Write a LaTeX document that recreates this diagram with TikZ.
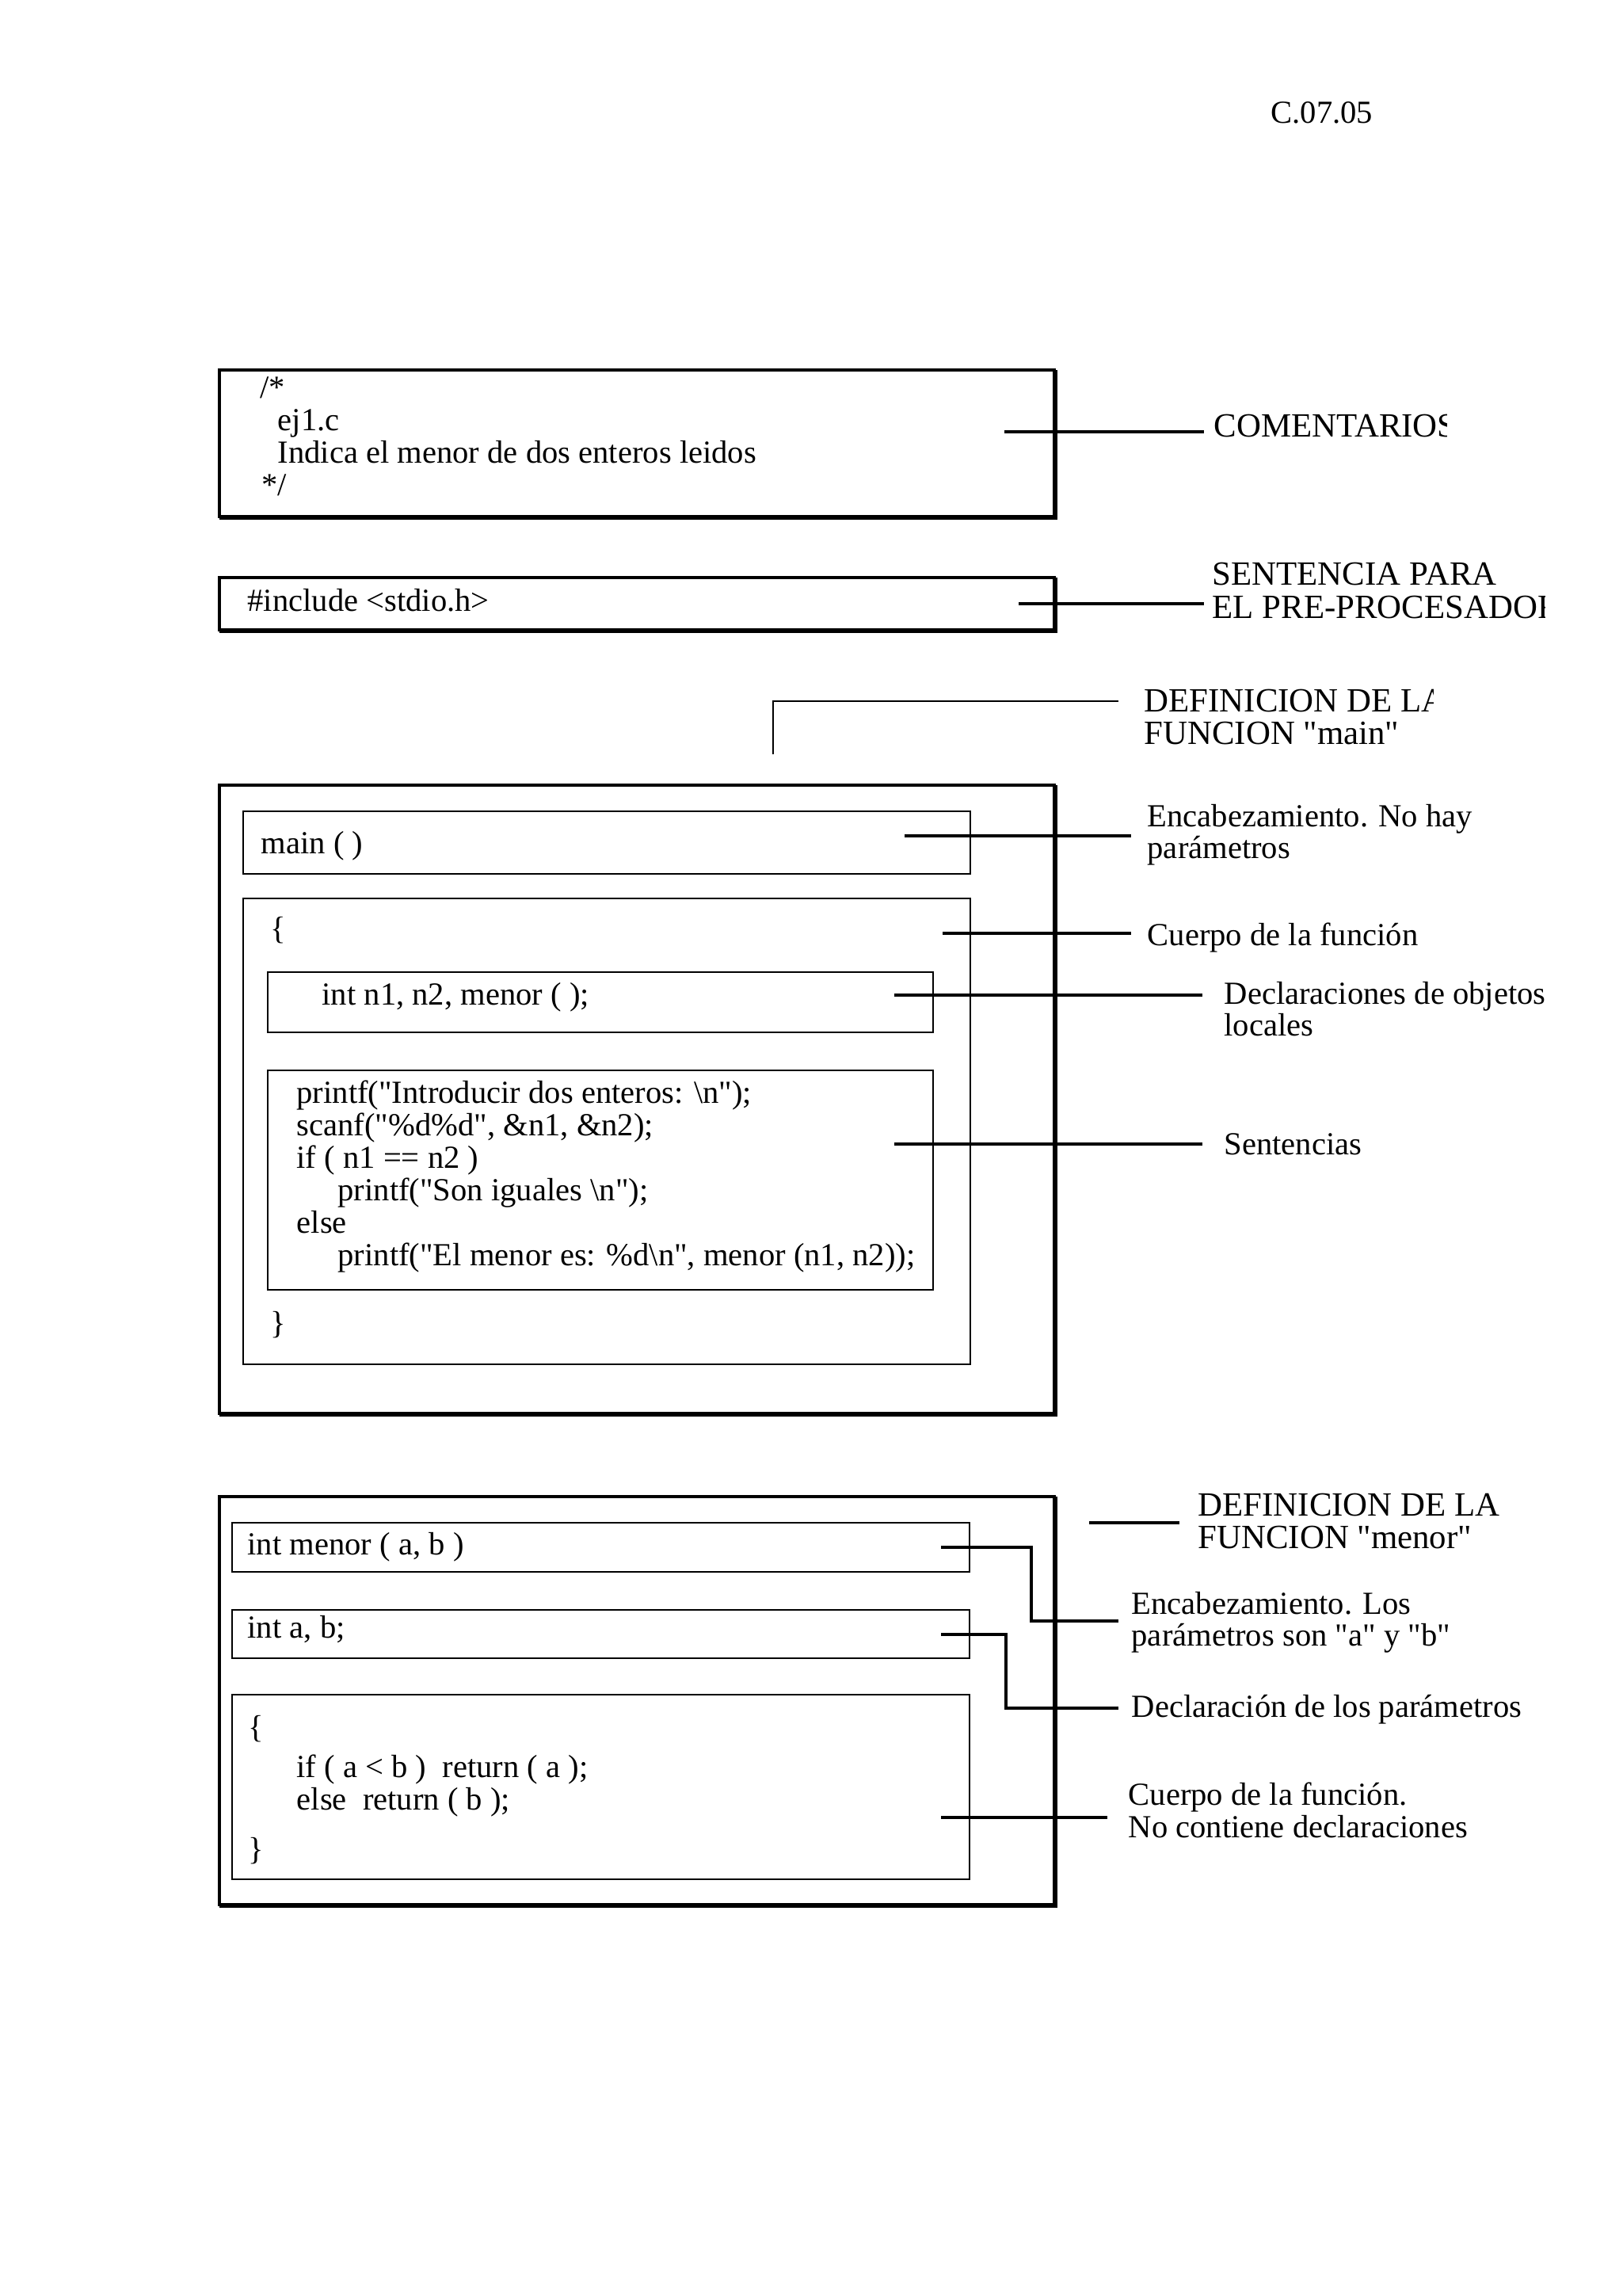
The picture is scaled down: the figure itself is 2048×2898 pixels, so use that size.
\documentclass[tikz,border=0pt]{standalone}
\usepackage{fontspec}
\setmainfont{Liberation Serif}
\newcommand{\qd}{\textquotedbl}
\begin{document}
\begin{tikzpicture}[x=0.29066bp,y=-0.29066bp,
  txt/.style={anchor=base west,inner sep=0pt,font=\fontsize{11.8bp}{12bp}\selectfont},
  captxt/.style={anchor=base west,inner sep=0pt,font=\fontsize{12.45bp}{12.5bp}\selectfont},
  outerbox/.style={line width=1.3bp},
  shadowline/.style={line width=1.1bp},
  innerbox/.style={line width=0.85bp},
  conn/.style={line width=0.9bp},
  thinconn/.style={line width=0.65bp}]
\useasboundingbox[fill=white] (0,0) rectangle (2048,2898);

% page code
\node[txt] (code) at (1604,155) {C.07.05};

% ---------- comment box ----------
\draw[outerbox] (277,467) rectangle (1331,652);
\draw[shadowline] (277,654) -- (1333,654) -- (1333,467);
\node[txt] (c1) at (328,502) {/*};
\node[txt] (c2) at (350,543) {ej1.c};
\node[txt] (c3) at (350,584) {Indica el menor de dos enteros leidos};
\node[txt] (c4) at (330,625) {*/};
\begin{scope}
  \clip (1500,480) rectangle (1826,600);
  \node[captxt] (lcom) at (1532,551) {COMENTARIOS};
\end{scope}
\coordinate (pcom) at (1268,545);
\coordinate (qcom) at (1520,545);
\draw[conn] (pcom) -- (qcom);

% ---------- include box ----------
\draw[outerbox] (277,729) rectangle (1331,795);
\draw[shadowline] (277,797) -- (1333,797) -- (1333,729);
\node[txt] (inc) at (312,771) {\#include <stdio.h>};
\node[captxt] (lsen1) at (1530,738) {SENTENCIA PARA};
\begin{scope}
  \clip (1500,745) rectangle (1950,800);
  \node[captxt] (lsen2) at (1530,780) {EL PRE-PROCESADOR};
\end{scope}
\coordinate (pinc) at (1286,762);
\coordinate (qinc) at (1520,762);
\draw[conn] (pinc) -- (qinc);

% ---------- main definition ----------
\coordinate (pdef) at (976,952);
\coordinate (kdef) at (976,885);
\coordinate (qdef) at (1412,885);
\draw[thinconn] (pdef) -- (kdef) -- (qdef);
\begin{scope}
  \clip (1420,850) rectangle (1809,905);
  \node[captxt] (ldef1) at (1444,898) {DEFINICION DE LA};
\end{scope}
\node[captxt] (ldef2) at (1444,939) {FUNCION \qd main\qd};

\draw[outerbox] (277,991) rectangle (1331,1784);
\draw[shadowline] (277,1786) -- (1333,1786) -- (1333,991);

% header box
\draw[innerbox] (307,1024) rectangle (1225,1103);
\node[txt] (mainh) at (329,1077) {main ( )};
\coordinate (phead) at (1142,1055);
\coordinate (qhead) at (1428,1055);
\draw[conn] (phead) -- (qhead);
\node[txt] (lhead1) at (1448,1043) {Encabezamiento. No hay};
\node[txt] (lhead2) at (1448,1083) {parámetros};

% body box
\draw[innerbox] (307,1134) rectangle (1225,1722);
\node[txt] (bopen) at (341,1185) {\{};
\node[txt] (bclose) at (341,1683) {\}};
\coordinate (pbody) at (1190,1178);
\coordinate (qbody) at (1428,1178);
\draw[conn] (pbody) -- (qbody);
\node[txt] (lbody) at (1448,1193) {Cuerpo de la función};

% declarations box
\draw[innerbox] (338,1227) rectangle (1178,1303);
\node[txt] (decl) at (406,1268) {int n1, n2, menor ( );};
\coordinate (pdecl) at (1129,1256);
\coordinate (qdecl) at (1518,1256);
\draw[conn] (pdecl) -- (qdecl);
\node[txt] (ldecl1) at (1545,1267) {Declaraciones de objetos};
\node[txt] (ldecl2) at (1545,1307) {locales};

% statements box
\draw[innerbox] (338,1351) rectangle (1178,1628);
\node[txt] (s1) at (374,1392) {printf(\qd Introducir dos enteros: \textbackslash n\qd);};
\node[txt] (s2) at (374,1433) {scanf(\qd\%d\%d\qd, \&n1, \&n2);};
\node[txt] (s3) at (374,1474) {if ( n1 == n2 )};
\node[txt] (s4) at (426,1515) {printf(\qd Son iguales \textbackslash n\qd);};
\node[txt] (s5) at (374,1556) {else};
\node[txt] (s6) at (426,1597) {printf(\qd El menor es: \%d\textbackslash n\qd, menor (n1, n2));};
\coordinate (pstm) at (1129,1444);
\coordinate (qstm) at (1518,1444);
\draw[conn] (pstm) -- (qstm);
\node[txt] (lstm) at (1545,1457) {Sentencias};

% ---------- menor definition ----------
\draw[outerbox] (277,1889) rectangle (1331,2404);
\draw[shadowline] (277,2406) -- (1333,2406) -- (1333,1889);

\coordinate (pmen) at (1375,1922);
\coordinate (qmen) at (1489,1922);
\draw[conn] (pmen) -- (qmen);
\node[captxt] (lmen1) at (1512,1913) {DEFINICION DE LA};
\node[captxt] (lmen2) at (1512,1954) {FUNCION \qd menor\qd};

\draw[innerbox] (293,1922) rectangle (1224,1984);
\node[txt] (mh) at (312,1962) {int menor ( a, b )};
\coordinate (pmh) at (1188,1953);
\coordinate (kmh1) at (1302,1953);
\coordinate (kmh2) at (1302,2046);
\coordinate (qmh) at (1412,2046);
\draw[conn] (pmh) -- (kmh1) -- (kmh2) -- (qmh);
\node[txt] (lmh1) at (1428,2037) {Encabezamiento. Los};
\node[txt] (lmh2) at (1428,2077) {parámetros son \qd a\qd{} y \qd b\qd};

\draw[innerbox] (293,2032) rectangle (1224,2093);
\node[txt] (md) at (312,2067) {int a, b;};
\coordinate (pmd) at (1188,2063);
\coordinate (kmd1) at (1270,2063);
\coordinate (kmd2) at (1270,2156);
\coordinate (qmd) at (1412,2156);
\draw[conn] (pmd) -- (kmd1) -- (kmd2) -- (qmd);
\node[txt] (lmd) at (1428,2167) {Declaración de los parámetros};

\draw[innerbox] (293,2139) rectangle (1224,2372);
\node[txt] (mo) at (313,2193) {\{};
\node[txt] (m1) at (374,2243) {if ( a < b )\ \ return ( a );};
\node[txt] (m2) at (374,2284) {else\ \ return ( b );};
\node[txt] (mc) at (313,2347) {\}};
\coordinate (pmb) at (1188,2294);
\coordinate (qmb) at (1398,2294);
\draw[conn] (pmb) -- (qmb);
\node[txt] (lmb1) at (1424,2278) {Cuerpo de la función.};
\node[txt] (lmb2) at (1424,2319) {No contiene declaraciones};
\end{tikzpicture}
\end{document}
